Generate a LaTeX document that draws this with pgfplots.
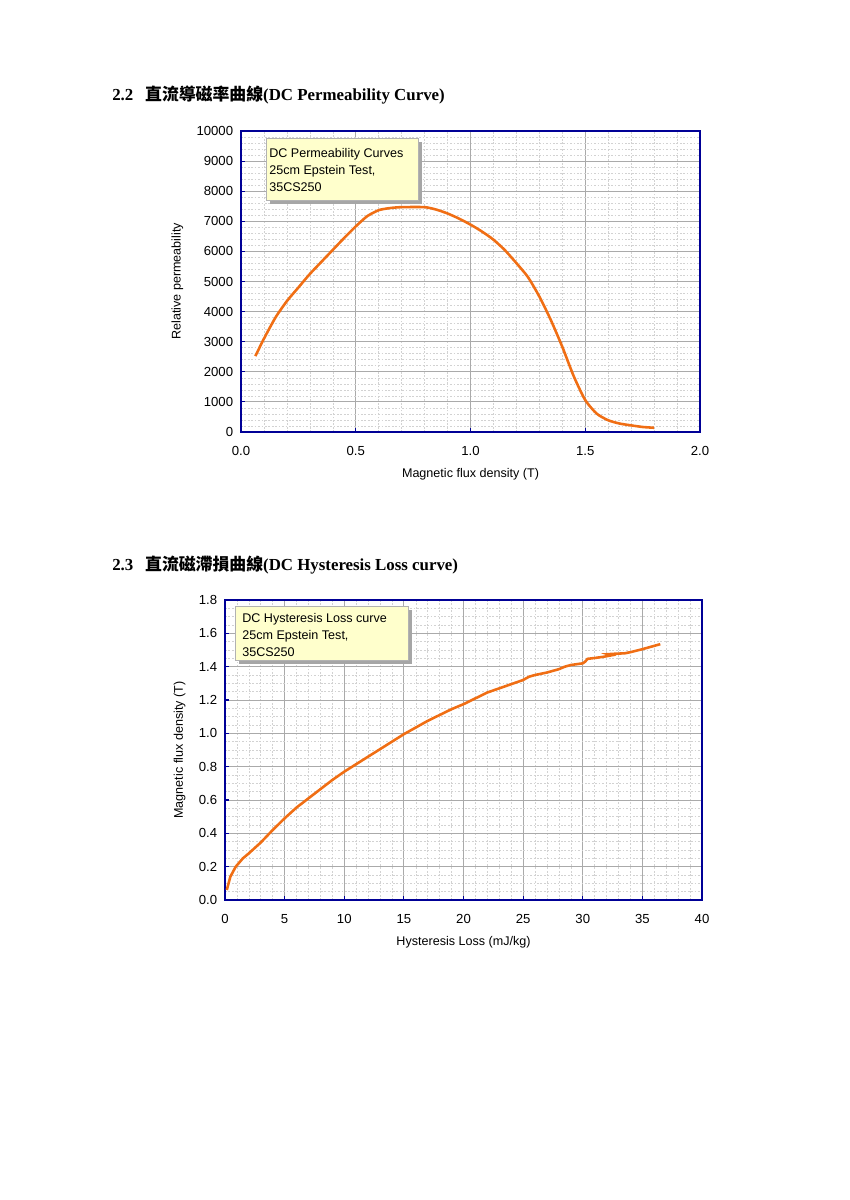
\documentclass[border=0pt]{standalone}
\usepackage{pgfplots}
\pgfplotsset{compat=1.18}
\usepackage{fontspec}
\setmainfont{Liberation Sans}
\newfontfamily\serif{Liberation Serif}
\newfontfamily\cjk{Noto Sans CJK TC}
\definecolor{frame}{RGB}{0,0,150}
\definecolor{curve}{RGB}{240,110,20}
\definecolor{boxfill}{RGB}{255,255,204}
\definecolor{majgrid}{RGB}{170,170,170}
\definecolor{mingrid}{RGB}{210,210,210}
\pgfplotsset{
  mystyle/.style={
    scale only axis, anchor=north west,
    axis line style={frame, line width=1.4pt},
    tick style={frame, line width=0.8pt},
    major tick length=3pt, minor tick length=0pt,
    tick align=inside, tick pos=left,
    grid=both,
    major grid style={majgrid, line width=0.6pt},
    minor grid style={mingrid, dash pattern=on 1.2pt off 1.2pt, line width=0.4pt},
    tick label style={font=\fontsize{9.2}{10}\selectfont},
    xticklabel style={yshift=-6.8pt},
    yticklabel style={xshift=-2pt},
    label style={font=\fontsize{8.8}{10}\selectfont},
    xlabel style={yshift=-1.5pt},
    ylabel style={yshift=2.5pt},
    /pgf/number format/assume math mode=true,
    /pgf/number format/1000 sep={},
  }
}
\begin{document}
\begin{tikzpicture}
\path (0,0) rectangle (594.3pt,-840pt);
% titles
\node[anchor=west, inner sep=0] at (78.4pt,-66.5pt) {\fontsize{11.8}{13}\selectfont\serif\bfseries 2.2\hspace{0.7em}{\cjk\bfseries 直流導磁率曲線}(DC Permeability Curve)};
\node[anchor=west, inner sep=0] at (78.4pt,-395.5pt) {\fontsize{11.8}{13}\selectfont\serif\bfseries 2.3\hspace{0.7em}{\cjk\bfseries 直流磁滯損曲線}(DC Hysteresis Loss curve)};

\begin{axis}[mystyle,
  at={(168.7pt,-91.7pt)}, width=321.3pt, height=210.7pt,
  xmin=0, xmax=2, ymin=0, ymax=10000,
  xtick={0,0.5,...,2}, minor x tick num=4,
  ytick={0,1000,...,10000}, minor y tick num=4,
  xticklabel style={/pgf/number format/fixed, /pgf/number format/precision=1, /pgf/number format/fixed zerofill},
  scaled y ticks=false, scaled x ticks=false,
  xlabel={Magnetic flux density (T)},
  ylabel={Relative permeability},
]
\addplot[curve, line width=1.8pt, smooth, tension=0.4] coordinates {
(0.0625,2520) (0.1,3100) (0.15,3800) (0.2,4350) (0.25,4800) (0.3,5250)
(0.35,5650) (0.4,6050) (0.45,6450) (0.5,6830) (0.55,7170) (0.6,7370)
(0.65,7440) (0.7,7470) (0.8,7470) (0.85,7390) (0.9,7260) (0.95,7090)
(1.0,6890) (1.05,6660) (1.1,6390) (1.15,6040) (1.2,5610) (1.25,5150)
(1.3,4500) (1.35,3720) (1.4,2830) (1.45,1850) (1.5,1060) (1.55,610)
(1.6,390) (1.65,280) (1.7,220) (1.75,167) (1.8,140)
};
\end{axis}
% top note box
\fill[gray!70] (189.0pt,-99.4pt) rectangle (295.4pt,-142.8pt);
\filldraw[fill=boxfill, draw=gray!60, line width=0.4pt] (186.2pt,-96.6pt) rectangle (292.6pt,-140pt);
\node[anchor=north west, align=left, inner sep=0, font=\fontsize{8.8}{11.9}\selectfont] at (188.3pt,-104pt) {DC Permeability Curves\\25cm Epstein Test,\\35CS250};

\begin{axis}[mystyle,
  at={(157.5pt,-420pt)}, width=333.9pt, height=210pt,
  xmin=0, xmax=40, ymin=0, ymax=1.8,
  xtick={0,5,...,40}, minor x tick num=4,
  ytick={0,0.2,...,1.8}, minor y tick num=3,
  yticklabel style={/pgf/number format/fixed, /pgf/number format/precision=1, /pgf/number format/fixed zerofill},
  scaled y ticks=false,
  xlabel={Hysteresis Loss (mJ/kg)},
  ylabel={Magnetic flux density (T)},
]
\addplot[curve, line width=1.8pt] coordinates {
(0.15,0.06) (0.45,0.14) (0.9,0.2) (1.5,0.25) (2,0.28) (3,0.345) (4,0.42)
(5,0.49) (6,0.555) (7,0.61) (8,0.665) (9,0.72) (10,0.77) (11,0.815)
(12,0.86) (13,0.905) (14,0.95) (15,0.995) (16,1.035) (17,1.075) (18,1.11)
(19,1.145) (20,1.175) (21,1.21) (22,1.245) (23,1.27) (24,1.295) (25,1.32)
(25.5,1.34) (26,1.35) (27,1.365) (28,1.385) (28.5,1.40) (29,1.41) (30,1.42)
(30.2,1.43) (30.4,1.447) (31,1.452) (31.8,1.46) (32.4,1.468) (32.1,1.475)
(32.8,1.478) (33.5,1.48) (34,1.487) (35,1.505) (36,1.525) (36.5,1.535)
};
\end{axis}
% bottom note box
\fill[gray!70] (167.3pt,-427.0pt) rectangle (288.4pt,-464.8pt);
\filldraw[fill=boxfill, draw=gray!60, line width=0.4pt] (164.5pt,-424.2pt) rectangle (285.6pt,-462pt);
\node[anchor=north west, align=left, inner sep=0, font=\fontsize{8.8}{11.9}\selectfont] at (169.4pt,-429pt) {DC Hysteresis Loss curve\\25cm Epstein Test,\\35CS250};
\end{tikzpicture}
\end{document}
